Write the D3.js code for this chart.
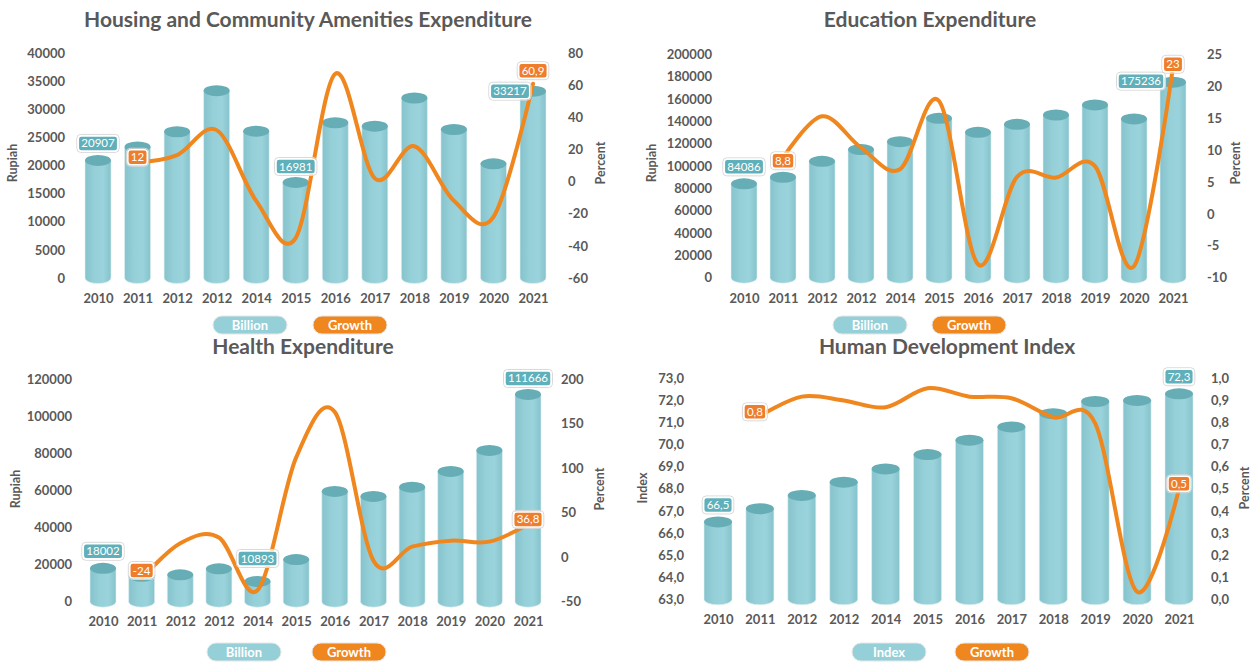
<!DOCTYPE html>
<html>
<head>
<meta charset="utf-8">
<script src="https://cdn.jsdelivr.net/npm/d3@7"></script>
<style>
  body { margin: 0; background: #fff; }
  svg text { font-family: Lato, "Open Sans", sans-serif; }
</style>
</head>
<body>
<svg id="chart" width="1253" height="664"></svg>
<script>
// tick labels (the source repeats "2012")
const years = ["2010", "2011", "2012", "2012", "2014", "2015", "2016", "2017", "2018", "2019", "2020", "2021"];

const housingBillion = [20907, 23300, 26000, 33300, 26100, 16981, 27600, 27000, 32000, 26400, 20300, 33217];
const housingGrowth = [null, 12, 16.5, 32, -12, -35, 67, 2, 22, -12, -22, 60.9];

const educationBillion = [84086, 90000, 104300, 114800, 121900, 142800, 130300, 137400, 145800, 154800, 142300, 175236];
const educationGrowth = [null, 8.8, 15.3, 10.4, 7, 17.7, -7.9, 5.8, 5.7, 7.5, -8.2, 23];

const healthBillion = [18002, 13700, 14500, 17700, 10893, 22700, 59400, 56700, 61700, 70200, 81500, 111666];
const healthGrowth = [null, -24, 15.6, 22, -37, 112, 163, -4, 11.8, 18.5, 17.4, 36.8];

const hdiIndex = [66.5, 67.1, 67.7, 68.3, 68.9, 69.55, 70.2, 70.8, 71.4, 71.95, 72.0, 72.3];
const hdiGrowth = [null, 0.83, 0.917, 0.90, 0.869, 0.955, 0.917, 0.91, 0.824, 0.796, 0.034, 0.5];

const BAR = "#95cfd8", BAR_EDGE = "#86c3cc", CAP = "#66adb6";
const ORANGE = "#f0861e", LABEL_TEAL = "#5fb0bb", LABEL_ORANGE = "#ee7d2c";
const GREY = "#595959";

const loc = d3.formatLocale({decimal: ",", thousands: ".", grouping: [3], currency: ["", ""], minus: "-"});
const fmtInt = loc.format("d");
const fmtOne = loc.format(".1f");
const fmtGrowth = loc.format(".1~f");

const panels = [
  {
    title: "Housing and Community Amenities Expenditure", titleX: 308, titleY: 27,
    bars: housingBillion, growth: housingGrowth,
    xRange: [98, 533], yRange: [278, 53],
    leftDomain: [0, 40000], leftStep: 5000, rightDomain: [-60, 80], rightStep: 20,
    leftX: 65, rightX: 568, leftName: "Rupiah", leftNameX: 13, rightNameX: 601, nameY: 163,
    xLabelY: 298, barW: 26, legend: ["Billion", "Growth"], legendX: [213, 313], legendY: 325,
    leftFmt: fmtInt, rightFmt: fmtInt, barFmt: fmtInt,
    barLabels: [{i: 0, dx: 0, dy: -17}, {i: 5, dx: 0, dy: -16}, {i: 11, dx: -23, dy: 0}],
    growthLabels: [{i: 1, dx: 0, dy: -5}, {i: 11, dx: 0, dy: -13}]
  },
  {
    title: "Education Expenditure", titleX: 930, titleY: 27,
    bars: educationBillion, growth: educationGrowth,
    xRange: [744, 1173], yRange: [277.7, 54.5],
    leftDomain: [0, 200000], leftStep: 20000, rightDomain: [-10, 25], rightStep: 5,
    leftX: 712, rightX: 1207, leftName: "Rupiah", leftNameX: 652, rightNameX: 1236, nameY: 163,
    xLabelY: 298, barW: 26, legend: ["Billion", "Growth"], legendX: [833, 932], legendY: 325,
    leftFmt: fmtInt, rightFmt: fmtInt, barFmt: fmtInt,
    barLabels: [{i: 0, dx: 0, dy: -17}, {i: 11, dx: -32, dy: -1}],
    growthLabels: [{i: 1, dx: 0, dy: 3}, {i: 11, dx: 0, dy: -3}]
  },
  {
    title: "Health Expenditure", titleX: 303, titleY: 353.5,
    bars: healthBillion, growth: healthGrowth,
    xRange: [103, 528], yRange: [601.7, 379],
    leftDomain: [0, 120000], leftStep: 20000, rightDomain: [-50, 200], rightStep: 50,
    leftX: 72, rightX: 561, leftName: "Rupiah", leftNameX: 16, rightNameX: 600, nameY: 489,
    xLabelY: 621, barW: 26, legend: ["Billion", "Growth"], legendX: [207, 312], legendY: 652,
    leftFmt: fmtInt, rightFmt: fmtInt, barFmt: fmtInt,
    barLabels: [{i: 0, dx: 0, dy: -17}, {i: 4, dx: 0, dy: -23}, {i: 11, dx: 0, dy: -16}],
    growthLabels: [{i: 1, dx: 0, dy: -8}, {i: 11, dx: 0, dy: -5}]
  },
  {
    title: "Human Development Index", titleX: 947, titleY: 353.5,
    bars: hdiIndex, growth: hdiGrowth,
    xRange: [718, 1179], yRange: [599.3, 378.3],
    leftDomain: [63, 73], leftStep: 1, rightDomain: [0, 1], rightStep: 0.1,
    leftX: 684, rightX: 1211, leftName: "Index", leftNameX: 643, rightNameX: 1245, nameY: 488,
    xLabelY: 619, barW: 28, legend: ["Index", "Growth"], legendX: [852, 955], legendY: 652,
    leftFmt: fmtOne, rightFmt: fmtOne, barFmt: fmtOne,
    barLabels: [{i: 0, dx: 0, dy: -17}, {i: 11, dx: 0, dy: -17}],
    growthLabels: [{i: 1, dx: -5, dy: -4}, {i: 11, dx: 0, dy: -5}]
  }
];

const svg = d3.select("#chart");
const defs = svg.append("defs");
const grad = defs.append("linearGradient").attr("id", "cyl").attr("x1", 0).attr("x2", 1).attr("y1", 0).attr("y2", 0);
grad.append("stop").attr("offset", "0%").attr("stop-color", BAR_EDGE);
grad.append("stop").attr("offset", "35%").attr("stop-color", BAR);
grad.append("stop").attr("offset", "70%").attr("stop-color", "#9ad3db");
grad.append("stop").attr("offset", "100%").attr("stop-color", BAR_EDGE);

function addLabel(g, x, y, text, fill) {
  const lab = g.append("g").attr("transform", `translate(${x},${y})`);
  const outer = lab.append("rect").attr("fill", "none").attr("stroke", "#d9d9d9").attr("stroke-width", 1);
  const box = lab.append("rect").attr("fill", fill).attr("stroke", "#fff").attr("stroke-width", 1.5);
  const t = lab.append("text")
    .attr("text-anchor", "middle")
    .attr("dy", "0.35em")
    .style("font-size", "11.5px")
    .style("fill", "#fff")
    .text(text);
  const w = t.node().getComputedTextLength() + 6;
  const h = 15;
  box.attr("x", -w / 2).attr("y", -h / 2).attr("width", w).attr("height", h).attr("rx", 3);
  outer.attr("x", -w / 2 - 1.5).attr("y", -h / 2 - 1.5).attr("width", w + 3).attr("height", h + 3).attr("rx", 4);
}

panels.forEach(p => {
  const g = svg.append("g");
  const idx = d3.range(years.length);

  let x = d3.scalePoint().domain(idx).range(p.xRange);
  let yL = d3.scaleLinear().domain(p.leftDomain).range(p.yRange);
  let yR = d3.scaleLinear().domain(p.rightDomain).range(p.yRange);

  // title
  g.append("text")
    .attr("x", p.titleX).attr("y", p.titleY)
    .attr("text-anchor", "middle")
    .style("font-size", "21px").style("font-weight", "bold").style("fill", GREY)
    .text(p.title);

  // axes (labels only)
  const leftTicks = d3.range(p.leftDomain[0], p.leftDomain[1] + p.leftStep / 2, p.leftStep);
  const rightTicks = d3.range(p.rightDomain[0], p.rightDomain[1] + p.rightStep / 2, p.rightStep);

  const styleAxis = a => {
    a.select(".domain").remove();
    a.attr("font-family", null).attr("font-size", null);
    a.selectAll("text").style("font-size", "13px").style("font-weight", "bold").style("fill", GREY);
  };

  g.append("g").attr("transform", `translate(${p.leftX},0)`)
    .call(d3.axisLeft(yL).tickValues(leftTicks).tickSize(0).tickPadding(0).tickFormat(p.leftFmt))
    .call(styleAxis);

  g.append("g").attr("transform", `translate(${p.rightX},0)`)
    .call(d3.axisRight(yR).tickValues(rightTicks).tickSize(0).tickPadding(0).tickFormat(p.rightFmt))
    .call(styleAxis);

  g.append("g").attr("transform", `translate(0,${p.xLabelY - 4.5})`)
    .call(d3.axisBottom(x).tickSize(0).tickPadding(0).tickFormat(i => years[i]))
    .call(styleAxis);

  // axis names
  g.append("text")
    .attr("transform", `translate(${p.leftNameX},${p.nameY}) rotate(-90)`)
    .attr("text-anchor", "middle").attr("dy", "0.35em")
    .style("font-size", "12.5px").style("font-weight", "bold").style("fill", GREY)
    .text(p.leftName);
  g.append("text")
    .attr("transform", `translate(${p.rightNameX},${p.nameY}) rotate(-90)`)
    .attr("text-anchor", "middle").attr("dy", "0.35em")
    .style("font-size", "12.5px").style("font-weight", "bold").style("fill", GREY)
    .text("Percent");

  // cylinders
  const rx = p.barW / 2, ry = 5.5;
  const base = yL(p.leftDomain[0]);
  const bars = g.append("g").selectAll("g.bar")
    .data(p.bars)
    .enter().append("g").attr("class", "bar");

  bars.append("path")
    .attr("d", (d, i) => {
      const cx = x(i), top = yL(d);
      return `M${cx - rx},${top} L${cx - rx},${base} A${rx},${ry} 0 0 0 ${cx + rx},${base} L${cx + rx},${top} Z`;
    })
    .attr("fill", "url(#cyl)")
    .attr("stroke", "#e3f1f3").attr("stroke-width", 0.6);

  bars.append("ellipse")
    .attr("cx", (d, i) => x(i))
    .attr("cy", d => yL(d))
    .attr("rx", rx).attr("ry", ry)
    .attr("fill", CAP);

  // growth line
  const line = d3.line()
    .defined(d => d != null)
    .x((d, i) => x(i))
    .y(d => yR(d))
    .curve(d3.curveCardinal.tension(0));

  g.append("path")
    .datum(p.growth)
    .attr("d", line)
    .attr("fill", "none")
    .attr("stroke", ORANGE)
    .attr("stroke-width", 4)
    .attr("stroke-linejoin", "round")
    .attr("stroke-linecap", "round");

  // data labels
  p.barLabels.forEach(l => {
    addLabel(g, x(l.i) + l.dx, yL(p.bars[l.i]) + l.dy, p.barFmt(p.bars[l.i]), LABEL_TEAL);
  });
  p.growthLabels.forEach(l => {
    addLabel(g, x(l.i) + l.dx, yR(p.growth[l.i]) + l.dy, fmtGrowth(p.growth[l.i]), LABEL_ORANGE);
  });

  // legend pills
  p.legend.forEach((name, k) => {
    const lg = g.append("g").attr("transform", `translate(${p.legendX[k]},${p.legendY})`);
    lg.append("rect")
      .attr("x", 0).attr("y", -9).attr("width", 74).attr("height", 18).attr("rx", 9)
      .attr("fill", k === 0 ? BAR : ORANGE)
      .attr("stroke", "#e6e6e6").attr("stroke-width", 1);
    lg.append("text")
      .attr("x", 37).attr("dy", "0.35em").attr("text-anchor", "middle")
      .style("font-size", "13px").style("font-weight", "bold").style("fill", "#fff")
      .text(name);
  });
});
</script>
</body>
</html>
